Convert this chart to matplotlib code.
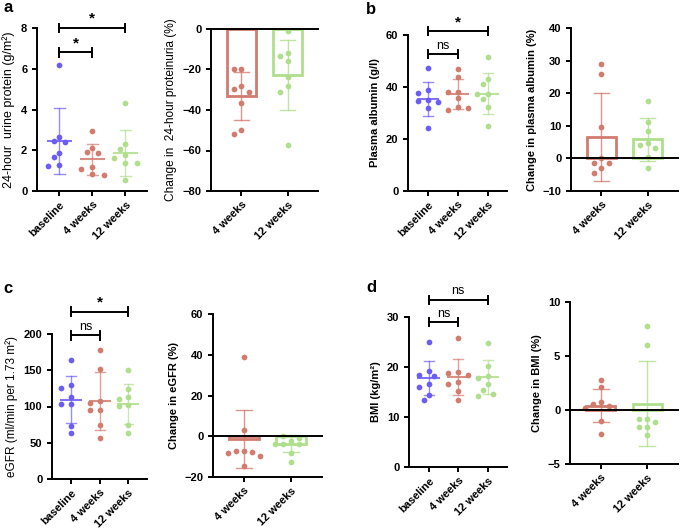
import numpy as np
import matplotlib.pyplot as plt

plt.rcParams['font.family'] = ['Liberation Sans', 'DejaVu Sans']
plt.rcParams['font.weight'] = 'bold'

BLUE = '#6b5cf6'
RED = '#d27b6f'
GREEN = '#afdf8c'

groups3 = ['baseline', '4 weeks', '12 weeks']
groups2 = ['4 weeks', '12 weeks']

# a - 24-hour urine protein
prot_base = [6.2, 2.65, 2.45, 2.4, 1.85, 1.65, 1.3, 1.25]
prot_4w = [2.95, 2.1, 1.9, 1.85, 1.2, 1.1, 0.85, 0.8]
prot_12w = [4.3, 2.3, 2.05, 1.75, 1.6, 1.35, 1.35, 0.55]
prot_mean = [2.45, 1.55, 1.88]
prot_sd = [1.6, 0.75, 1.12]
prot_chg_4w = [-36.5, -20, -20, -28, -29.5, -31, -50, -52]
prot_chg_12w = [-1, -12, -13.5, -16, -23.5, -28, -31, -57.5]
prot_chg_mean = [-33, -22.5]
prot_chg_sd = [12, 17.3]

# b - plasma albumin
alb_base = [47.5, 38.8, 37.7, 35, 34.5, 34.3, 31.8, 24.2]
alb_4w = [46.8, 43.9, 38.2, 38.0, 35.6, 32.4, 31.2, 32.0]
alb_12w = [51.7, 43, 41, 37.2, 37.2, 35.4, 32.2, 25.1]
alb_mean = [35.4, 37.2, 37.5]
alb_sd = [6.7, 5.75, 8.0]
alb_chg_4w = [29, 26, 9.5, 0, -1.5, -1.5, -3, -4.5]
alb_chg_12w = [17.7, 11.1, 8.5, 4.8, 4.1, 3.1, 0.5, -2.8]
alb_chg_mean = [6.7, 5.8]
alb_chg_sd = [13.5, 6.45]

# c - eGFR
egfr_base = [164, 130, 126, 113.5, 103.5, 103.5, 73.5, 63]
egfr_4w = [178, 152, 108, 105, 95, 95, 75, 57]
egfr_12w = [151, 124, 113.5, 111, 102, 101, 74.5, 63]
egfr_mean = [109.5, 108, 104]
egfr_sd = [32, 40, 27.5]
egfr_chg_4w = [38.7, 3, -7, -7, -7.8, -8.3, -9.8, -14.8]
egfr_chg_12w = [-2.3, 0.3, -0.7, -4, -4, -4, -8, -12.5]
egfr_chg_mean = [-1.3, -3.7]
egfr_chg_sd = [14.1, 4.2]

# d - BMI
bmi_base = [25, 19.2, 18.5, 18.3, 16.6, 16.0, 14.4, 13.4]
bmi_4w = [25.8, 19, 18.8, 18.5, 17, 16.6, 15.2, 13.5]
bmi_12w = [24.9, 20.2, 18.3, 17.8, 16.6, 15.4, 14.6, 14.3]
bmi_mean = [17.8, 18.0, 18.0]
bmi_sd = [3.45, 3.6, 3.4]
bmi_chg_4w = [2.8, 2.1, 0.7, 0.6, 0.4, 0.2, -1.0, -2.2]
bmi_chg_12w = [7.8, 6.0, -0.8, -0.8, -1.1, -1.6, -1.6, -2.3]
bmi_chg_mean = [0.4, 0.6]
bmi_chg_sd = [1.55, 3.9]

W, H = 680, 531
fig = plt.figure(figsize=(W / 100, H / 100), dpi=100)


def add_ax(x1, y1, x2, y2):
    return fig.add_axes([x1 / W, 1 - y2 / H, (x2 - x1) / W, (y2 - y1) / H])


def swarm(ax, x0, vals, step=0.17, dia=6.5):
    # place points one by one, pushing them sideways when they would overlap
    pts, xs = [], []
    for v in vals:
        for k in [0, -1, 1, -2, 2, -3, 3]:
            x = x0 + k * step
            p = ax.transData.transform((x, v))
            if all(np.hypot(*(p - q)) >= dia for q in pts):
                break
        pts.append(p)
        xs.append(x)
    return xs


def style(ax, labels, ylabel, yticks, weight, lsize):
    for s in ['top', 'right']:
        ax.spines[s].set_visible(False)
    for s in ['left', 'bottom']:
        ax.spines[s].set_linewidth(1.4)
    ax.tick_params(width=1.4, length=3.5, labelsize=8)
    ax.tick_params(axis='x', pad=2.5)
    ax.set_yticks(yticks)
    ax.set_ylim(yticks[0], yticks[-1])
    ax.set_xticks(range(len(labels)))
    ax.set_xticklabels(labels, rotation=45, ha='right', rotation_mode='anchor')
    ax.set_ylabel(ylabel, fontsize=lsize, fontweight=weight)


def dot_panel(ax, data, means, sds, ylabel, yticks, weight='bold', lsize=8):
    style(ax, groups3, ylabel, yticks, weight, lsize)
    ax.set_xlim(-0.67, 2.65)
    for i, (vals, c) in enumerate(zip(data, [BLUE, RED, GREEN])):
        xs = swarm(ax, i, vals)
        ax.scatter(xs, vals, s=17, color=c, zorder=3, linewidths=0)
        m, sd = means[i], sds[i]
        ax.plot([i - 0.35, i + 0.35], [m, m], color=c, lw=1.5, alpha=0.85)
        ax.plot([i, i], [m - sd, m + sd], color=c, lw=1, alpha=0.7)
        for e in (m - sd, m + sd):
            ax.plot([i - 0.17, i + 0.17], [e, e], color=c, lw=1, alpha=0.7)


def bar_panel(ax, data, means, sds, ylabel, yticks, weight='bold', lsize=8):
    style(ax, groups2, ylabel, yticks, weight, lsize)
    ax.set_xlim(-0.66, 1.66)
    ax.axhline(0, color='black', lw=1.4, clip_on=False, zorder=4)
    for i, (vals, c) in enumerate(zip(data, [RED, GREEN])):
        m, sd = means[i], sds[i]
        ax.bar(i, m, width=0.63, fill=False, edgecolor=c, lw=2, zorder=2)
        xs = swarm(ax, i, vals)
        ax.scatter(xs, vals, s=17, color=c, zorder=3, linewidths=0)
        ax.plot([i, i], [m - sd, m + sd], color=c, lw=1, alpha=0.8)
        for e in (m - sd, m + sd):
            ax.plot([i - 0.17, i + 0.17], [e, e], color=c, lw=1, alpha=0.8)


def bracket(ax, x1, x2, h, txt, cap, size):
    ax.plot([x1, x2], [h, h], color='black', lw=1.4, clip_on=False)
    for x in (x1, x2):
        ax.plot([x, x], [h - cap, h + cap], color='black', lw=1.4, clip_on=False)
    ax.annotate(txt, ((x1 + x2) / 2, h), xytext=(0, 1.5), textcoords='offset points',
                ha='center', va='bottom', fontsize=size,
                fontweight='bold' if txt == '*' else 'normal', annotation_clip=False)


# a
ax = add_ax(37, 28, 147, 191)
dot_panel(ax, [prot_base, prot_4w, prot_12w], prot_mean, prot_sd,
          '24-hour  urine protein (g/m²)', [0, 2, 4, 6, 8], 'normal', 9)
bracket(ax, 0, 2, 8.0, '*', 0.2, 11)
bracket(ax, 0, 1, 6.8, '*', 0.2, 11)

ax = add_ax(211, 29, 318, 191)
bar_panel(ax, [prot_chg_4w, prot_chg_12w], prot_chg_mean, prot_chg_sd,
          'Change in  24-hour proteinuria (%)', [-80, -60, -40, -20, 0], 'normal', 8.6)

# b
ax = add_ax(408, 35, 507, 191)
dot_panel(ax, [alb_base, alb_4w, alb_12w], alb_mean, alb_sd,
          'Plasma albumin (g/l)', [0, 20, 40, 60])
bracket(ax, 0, 2, 61.5, '*', 1.5, 11)
bracket(ax, 0, 1, 52.6, 'ns', 1.5, 9)

ax = add_ax(571, 28, 678, 191)
bar_panel(ax, [alb_chg_4w, alb_chg_12w], alb_chg_mean, alb_chg_sd,
          'Change in plasma albumin (%)', [-10, 0, 10, 20, 30, 40])

# c
ax = add_ax(52, 334, 147, 479)
dot_panel(ax, [egfr_base, egfr_4w, egfr_12w], egfr_mean, egfr_sd,
          'eGFR (ml/min per 1.73 m²)', [0, 50, 100, 150, 200], 'normal', 8.5)
bracket(ax, 0, 2, 231, '*', 6, 11)
bracket(ax, 0, 1, 198, 'ns', 6, 9)

ax = add_ax(213, 314, 322, 477)
bar_panel(ax, [egfr_chg_4w, egfr_chg_12w], egfr_chg_mean, egfr_chg_sd,
          'Change in eGFR (%)', [-20, 0, 20, 40, 60])

# d
ax = add_ax(409, 317, 507, 467)
dot_panel(ax, [bmi_base, bmi_4w, bmi_12w], bmi_mean, bmi_sd,
          'BMI (kg/m²)', [0, 10, 20, 30])
bracket(ax, 0, 2, 33.5, 'ns', 0.8, 9)
bracket(ax, 0, 1, 29, 'ns', 0.8, 9)

ax = add_ax(570, 302, 678, 464)
bar_panel(ax, [bmi_chg_4w, bmi_chg_12w], bmi_chg_mean, bmi_chg_sd,
          'Change in BMI (%)', [-5, 0, 5, 10])

for letter, x, y in [('a', 8.5, 7.5), ('b', 371, 10), ('c', 7.5, 288.5), ('d', 371, 288)]:
    fig.text(x / W, 1 - y / H, letter, fontsize=12, fontweight='bold', ha='center', va='center')

fig.savefig('out.png', dpi=100)
